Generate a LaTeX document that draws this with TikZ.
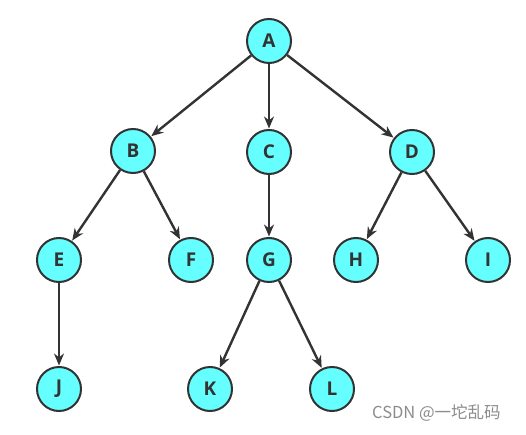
\documentclass[tikz,border=0pt]{standalone}
\usepackage{fontspec}
\setmainfont{Open Sans}
\newfontfamily\cjk{Noto Sans CJK SC}
\usetikzlibrary{arrows.meta}
\definecolor{nodefill}{RGB}{102,255,255}
\definecolor{ink}{RGB}{51,51,51}
\definecolor{wm}{RGB}{140,140,140}
\tikzset{
  tnode/.style={circle, draw=ink, line width=2pt, fill=nodefill, minimum size=44pt, inner sep=0pt,
    font=\fontsize{19}{19}\selectfont\bfseries, text=ink},
  edge/.style={draw=ink, line width=2.4pt, -{Stealth[length=12pt,width=10pt]}, shorten >=0.5pt}
}
\begin{document}
\begin{tikzpicture}[x=1pt,y=-1pt]
\useasboundingbox[fill=white] (0,0) rectangle (526,435);
\node[tnode] (A) at (269,41) {A};
\node[tnode] (B) at (133,151) {B};
\node[tnode] (C) at (269,152) {C};
\node[tnode] (D) at (412,152) {D};
\node[tnode] (E) at (59,260) {E};
\node[tnode] (F) at (191,260) {F};
\node[tnode] (G) at (269,260) {G};
\node[tnode] (H) at (356,260) {H};
\node[tnode] (I) at (488,260) {I};
\node[tnode] (J) at (59,389) {J};
\node[tnode] (K) at (210,389) {K};
\node[tnode] (L) at (332,389) {L};
\draw[edge] (A) -- (B);
\draw[edge] (A) -- (C);
\draw[edge] (A) -- (D);
\draw[edge] (B) -- (E);
\draw[edge] (B) -- (F);
\draw[edge] (C) -- (G);
\draw[edge] (D) -- (H);
\draw[edge] (D) -- (I);
\draw[edge] (E) -- (J);
\draw[edge] (G) -- (K);
\draw[edge] (G) -- (L);
\node[anchor=west, text=wm, inner sep=0pt, font=\cjk\fontsize{16.5}{16.5}\selectfont] (wmk) at (372,413) {CSDN @一坨乱码};
\end{tikzpicture}
\end{document}
